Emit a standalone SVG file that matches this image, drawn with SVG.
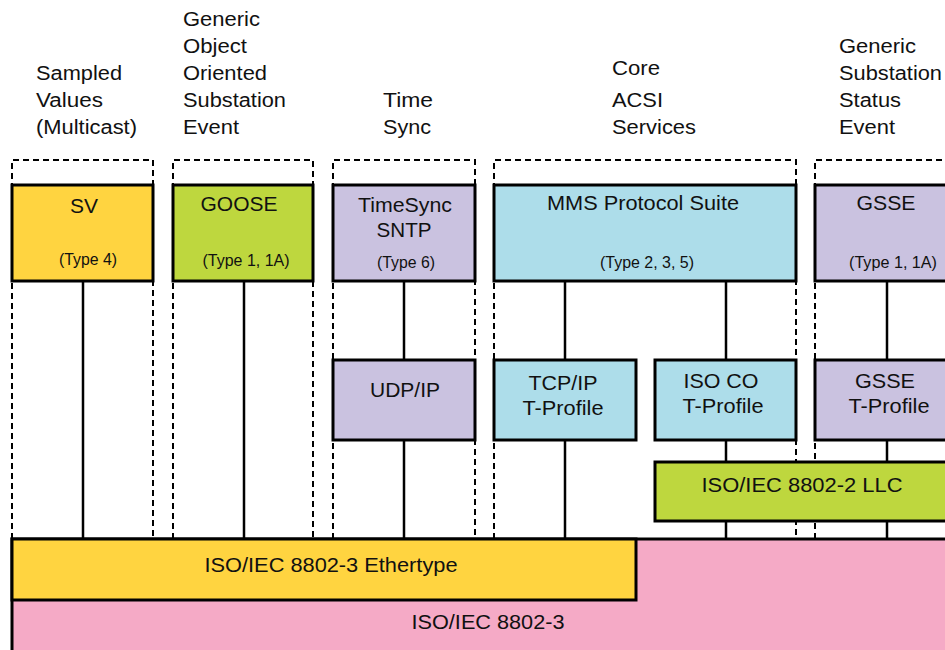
<svg xmlns="http://www.w3.org/2000/svg" width="945" height="650" viewBox="0 0 945 650">
<style>
text{font-family:"Liberation Sans",Arial,sans-serif;fill:#111}
.h{font-size:20px}
.b{font-size:19.5px;text-anchor:middle}
.t{font-size:16px;text-anchor:middle}
.box{stroke:#000;stroke-width:3}
.dash{fill:none;stroke:#000;stroke-width:2;stroke-dasharray:6 4}
.ln{stroke:#000;stroke-width:2.5;fill:none}
.y{fill:#FFD440}.g{fill:#BED73E}.p{fill:#CAC2E0}.c{fill:#ADDDEA}.k{fill:#F5AAC6}
</style>
<rect width="945" height="650" fill="#fff"/>
<g id="headers">
<text class="h" x="36" y="80" textLength="86" lengthAdjust="spacingAndGlyphs">Sampled</text>
<text class="h" x="36" y="107" textLength="67" lengthAdjust="spacingAndGlyphs">Values</text>
<text class="h" x="36" y="134" textLength="101" lengthAdjust="spacingAndGlyphs">(Multicast)</text>
<text class="h" x="183" y="26" textLength="77" lengthAdjust="spacingAndGlyphs">Generic</text>
<text class="h" x="183" y="53" textLength="64" lengthAdjust="spacingAndGlyphs">Object</text>
<text class="h" x="183" y="80" textLength="84" lengthAdjust="spacingAndGlyphs">Oriented</text>
<text class="h" x="183" y="107" textLength="103" lengthAdjust="spacingAndGlyphs">Substation</text>
<text class="h" x="183" y="134" textLength="56" lengthAdjust="spacingAndGlyphs">Event</text>
<text class="h" x="383" y="107" textLength="50" lengthAdjust="spacingAndGlyphs">Time</text>
<text class="h" x="383" y="134" textLength="48" lengthAdjust="spacingAndGlyphs">Sync</text>
<text class="h" x="612" y="75" textLength="48" lengthAdjust="spacingAndGlyphs">Core</text>
<text class="h" x="612" y="107" textLength="51" lengthAdjust="spacingAndGlyphs">ACSI</text>
<text class="h" x="612" y="134" textLength="84" lengthAdjust="spacingAndGlyphs">Services</text>
<text class="h" x="839" y="53" textLength="77" lengthAdjust="spacingAndGlyphs">Generic</text>
<text class="h" x="839" y="80" textLength="103" lengthAdjust="spacingAndGlyphs">Substation</text>
<text class="h" x="839" y="107" textLength="62" lengthAdjust="spacingAndGlyphs">Status</text>
<text class="h" x="839" y="134" textLength="56" lengthAdjust="spacingAndGlyphs">Event</text>
</g>
<g id="groups">
<path class="dash" d="M12,539V160H153V539"/>
<path class="dash" d="M173,539V160H313V539"/>
<path class="dash" d="M333,539V160H475V539"/>
<path class="dash" d="M494,539V160H796V539"/>
<path class="dash" d="M815,539V160H950"/>
</g>
<g id="connectors">
<path class="ln" d="M83,281V539M244,281V539M404,281V360M404,440V539M565,281V360M565,440V539M726,281V360M726,440V462M726,521V539M887,281V360M887,440V462M887,521V539"/>
</g>
<g id="n-8802-3"><rect class="box k" x="12" y="539" width="940" height="120"/>
<text class="b" x="488" y="629" textLength="153" lengthAdjust="spacingAndGlyphs">ISO/IEC 8802-3</text></g>
<g id="n-ethertype"><rect class="box y" x="12" y="539" width="624" height="61"/>
<text class="b" x="331" y="572" textLength="253" lengthAdjust="spacingAndGlyphs">ISO/IEC 8802-3 Ethertype</text></g>
<g id="n-sv"><rect class="box y" x="12" y="185" width="141" height="96"/>
<text class="b" x="84" y="213" textLength="28" lengthAdjust="spacingAndGlyphs">SV</text>
<text class="t" x="88" y="265" textLength="58" lengthAdjust="spacingAndGlyphs">(Type 4)</text></g>
<g id="n-goose"><rect class="box g" x="173" y="185" width="140" height="96"/>
<text class="b" x="239" y="211" textLength="77" lengthAdjust="spacingAndGlyphs">GOOSE</text>
<text class="t" x="246" y="266" textLength="87" lengthAdjust="spacingAndGlyphs">(Type 1, 1A)</text></g>
<g id="n-timesync"><rect class="box p" x="333" y="185" width="142" height="96"/>
<text class="b" x="405" y="212" textLength="94" lengthAdjust="spacingAndGlyphs">TimeSync</text>
<text class="b" x="404" y="237" textLength="55" lengthAdjust="spacingAndGlyphs">SNTP</text>
<text class="t" x="406" y="268" textLength="58" lengthAdjust="spacingAndGlyphs">(Type 6)</text></g>
<g id="n-mms"><rect class="box c" x="494" y="185" width="302" height="96"/>
<text class="b" x="643" y="210" textLength="192" lengthAdjust="spacingAndGlyphs">MMS Protocol Suite</text>
<text class="t" x="647" y="268" textLength="94" lengthAdjust="spacingAndGlyphs">(Type 2, 3, 5)</text></g>
<g id="n-gsse"><rect class="box p" x="815" y="185" width="140" height="96"/>
<text class="b" x="886" y="210" textLength="59" lengthAdjust="spacingAndGlyphs">GSSE</text>
<text class="t" x="893" y="268" textLength="88" lengthAdjust="spacingAndGlyphs">(Type 1, 1A)</text></g>
<g id="n-udp"><rect class="box p" x="333" y="360" width="142" height="80"/>
<text class="b" x="405" y="397" textLength="70" lengthAdjust="spacingAndGlyphs">UDP/IP</text></g>
<g id="n-tcp"><rect class="box c" x="494" y="360" width="142" height="80"/>
<text class="b" x="563" y="390" textLength="69" lengthAdjust="spacingAndGlyphs">TCP/IP</text>
<text class="b" x="563" y="415" textLength="81" lengthAdjust="spacingAndGlyphs">T-Profile</text></g>
<g id="n-isoco"><rect class="box c" x="655" y="360" width="141" height="80"/>
<text class="b" x="721" y="388" textLength="75" lengthAdjust="spacingAndGlyphs">ISO CO</text>
<text class="b" x="723" y="413" textLength="81" lengthAdjust="spacingAndGlyphs">T-Profile</text></g>
<g id="n-gsse-tp"><rect class="box p" x="815" y="360" width="140" height="80"/>
<text class="b" x="885" y="388" textLength="60" lengthAdjust="spacingAndGlyphs">GSSE</text>
<text class="b" x="889" y="413" textLength="81" lengthAdjust="spacingAndGlyphs">T-Profile</text></g>
<g id="n-llc"><rect class="box g" x="655" y="462" width="300" height="59"/>
<text class="b" x="802" y="492" textLength="201" lengthAdjust="spacingAndGlyphs">ISO/IEC 8802-2 LLC</text></g>
</svg>
